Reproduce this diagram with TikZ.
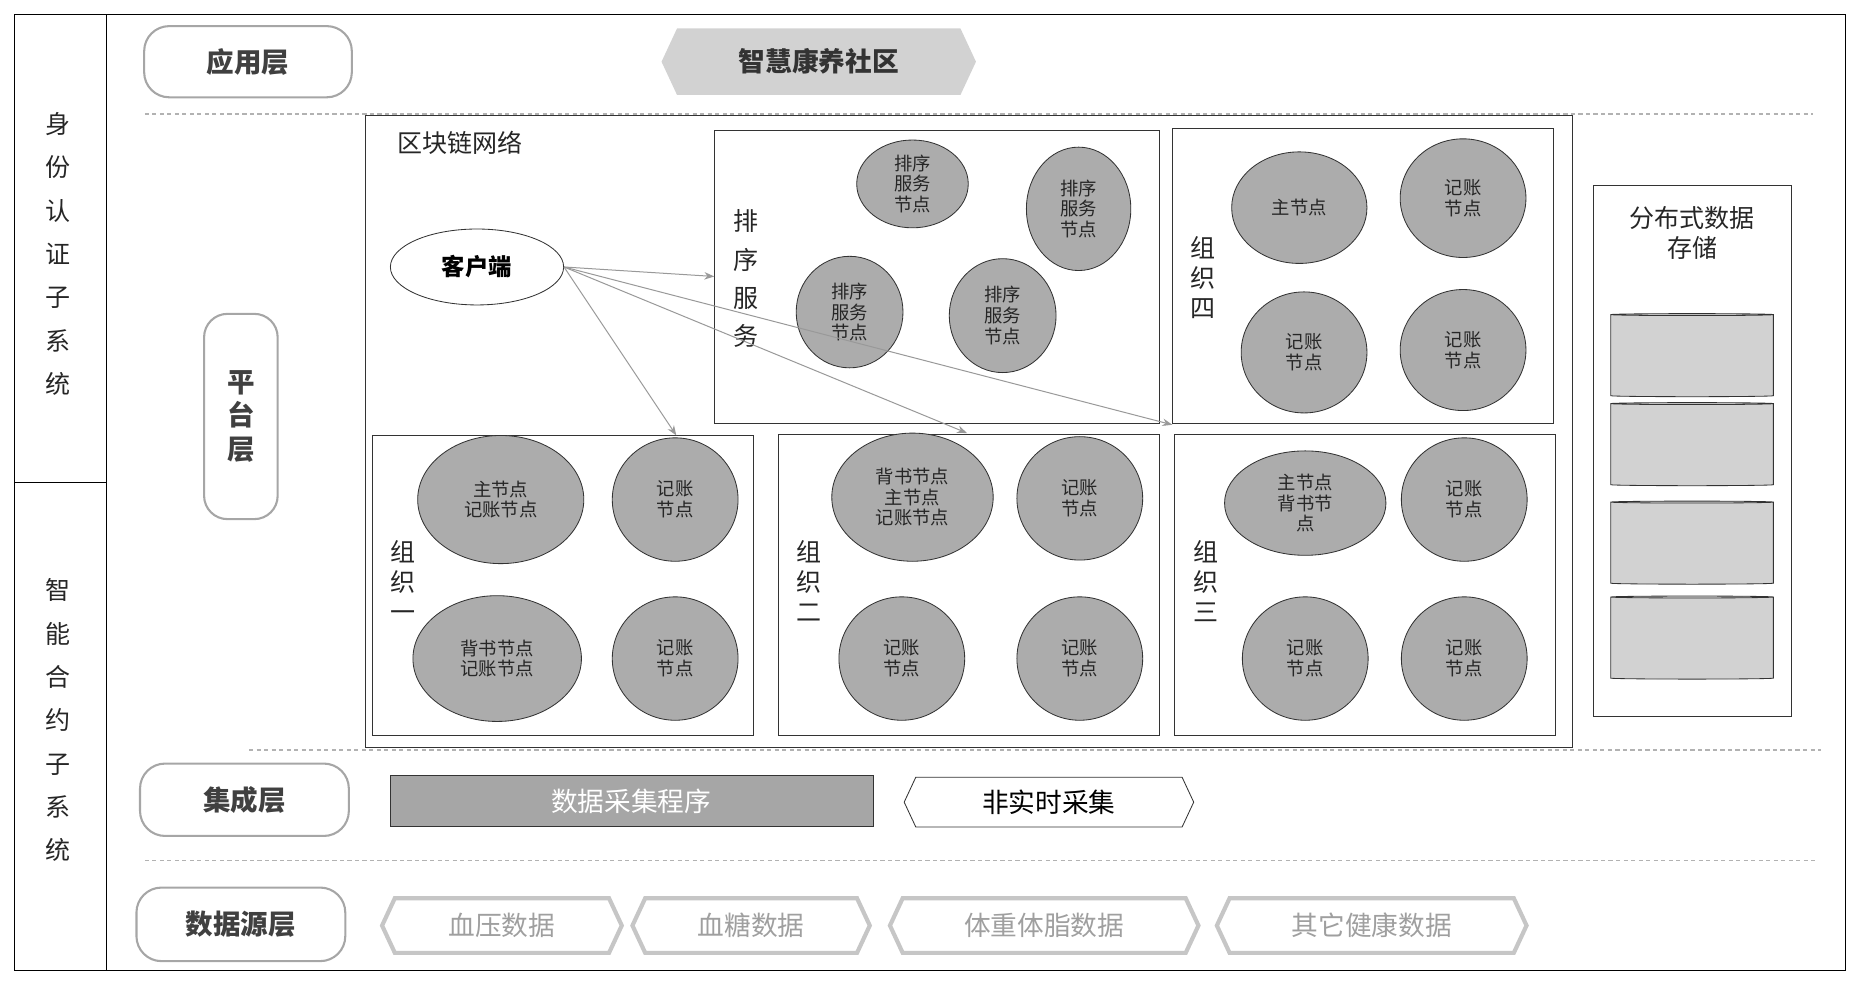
\documentclass[tikz,border=0pt]{standalone}
\usepackage{fontspec}
\setmainfont{Noto Sans CJK SC}
\usetikzlibrary{shapes.geometric,shapes.symbols,arrows.meta}
\tikzset{
  layer/.style={draw=gray!70, line width=2.5pt, rounded corners=30, fill=white, font=\fontsize{33}{36}\selectfont\bfseries, text=black!75},
  grpbox/.style={draw=black!80, line width=1pt, fill=white},
  peer/.style={ellipse, draw=black!80, line width=1pt, fill=gray!65, align=center, inner sep=0pt, font=\fontsize{22}{25}\selectfont, text=black!85},
  hexa/.style={signal, signal to=west and east, signal pointer angle=130, inner sep=0pt},
  srcbox/.style={hexa, draw=gray!45, line width=5pt, fill=white, text=gray!75, font=\fontsize{32}{36}\selectfont, minimum height=46*0.05cm},
  vtext/.style={align=center, font=\fontsize{30}{52}\selectfont, text=black!85},
  sep/.style={dashed, draw=gray!60, line width=1.5pt, dash pattern=on 5pt off 4pt},
  link/.style={-{Stealth[length=12pt]}, draw=gray!80, line width=1.2pt},
  disk/.style={cylinder, shape border rotate=90, aspect=0.35, draw=black!80, line width=1pt, fill=gray!35, minimum width=137*0.05cm, minimum height=70*0.05cm}
}
\begin{document}
\begin{tikzpicture}[x=0.05cm, y=-0.05cm]
\useasboundingbox (0,0) rectangle (1565,830);
\draw[line width=1.2pt] (12,12) rectangle (1555,818);
\draw[line width=1.2pt] (90,12) -- (90,818);
\draw[line width=1.2pt] (12,407) -- (90,407);
\node[vtext] (idsys) at (49,214) {身\\份\\认\\证\\子\\系\\统};
\node[vtext] (scsys) at (49,607) {智\\能\\合\\约\\子\\系\\统};

% application layer
\node[layer, minimum width=175*0.05cm, minimum height=60*0.05cm] (app) at (209,52) {应用层};
\node[hexa, fill=gray!35, minimum width=265*0.05cm, minimum height=56*0.05cm, font=\fontsize{32}{36}\selectfont\bfseries, text=black!80] (comm) at (690,52) {智慧康养社区};
\draw[sep] (122,96) -- (1528,96);
\draw[sep] (210,632) -- (1535,632);
\draw[sep] (122,725) -- (1530,725);

% platform layer
\node[layer, rounded corners=28, minimum width=62*0.05cm, minimum height=173*0.05cm, align=center, font=\fontsize{33}{40}\selectfont\bfseries] (plat) at (203,351) {平\\台\\层};
\draw[grpbox] (308,97) rectangle (1325,630);
\node[font=\fontsize{30}{34}\selectfont, text=black!85] (bcn) at (388,120) {区块链网络};

% ordering service
\draw[grpbox] (602,110) rectangle (977,357);
\node[vtext, font=\fontsize{30}{46}\selectfont] (ord) at (629,235) {排\\序\\服\\务};
\node[peer, minimum width=94*0.05cm, minimum height=74*0.05cm] (o1) at (769,155) {排序\\服务\\节点};
\node[peer, minimum width=88*0.05cm, minimum height=104*0.05cm] (o2) at (909,176) {排序\\服务\\节点};
\node[peer, minimum width=90*0.05cm, minimum height=94*0.05cm] (o3) at (716,263) {排序\\服务\\节点};
\node[peer, minimum width=90*0.05cm, minimum height=96*0.05cm] (o4) at (845,266) {排序\\服务\\节点};

% org four
\draw[grpbox] (988,108) rectangle (1309,357);
\node[vtext, font=\fontsize{30}{36}\selectfont] (g4) at (1014,234) {组\\织\\四};
\node[peer, minimum width=114*0.05cm, minimum height=94*0.05cm] (g4a) at (1095,175) {主节点};
\node[peer, minimum width=106*0.05cm, minimum height=100*0.05cm] (g4b) at (1233,167) {记账\\节点};
\node[peer, minimum width=106*0.05cm, minimum height=102*0.05cm] (g4c) at (1099,297) {记账\\节点};
\node[peer, minimum width=106*0.05cm, minimum height=102*0.05cm] (g4d) at (1233,295) {记账\\节点};

% org one
\draw[grpbox] (314,367) rectangle (635,620);
\node[vtext, font=\fontsize{30}{36}\selectfont] (g1) at (340,490) {组\\织\\一};
\node[peer, minimum width=140*0.05cm, minimum height=108*0.05cm] (g1a) at (422,421) {主节点\\记账节点};
\node[peer, minimum width=106*0.05cm, minimum height=104*0.05cm] (g1b) at (569,421) {记账\\节点};
\node[peer, minimum width=142*0.05cm, minimum height=106*0.05cm] (g1c) at (419,555) {背书节点\\记账节点};
\node[peer, minimum width=106*0.05cm, minimum height=104*0.05cm] (g1d) at (569,555) {记账\\节点};

% org two
\draw[grpbox] (656,366) rectangle (977,620);
\node[vtext, font=\fontsize{30}{36}\selectfont] (g2) at (682,490) {组\\织\\二};
\node[peer, minimum width=136*0.05cm, minimum height=108*0.05cm] (g2a) at (769,419) {背书节点\\主节点\\记账节点};
\node[peer, minimum width=106*0.05cm, minimum height=104*0.05cm] (g2b) at (910,420) {记账\\节点};
\node[peer, minimum width=106*0.05cm, minimum height=104*0.05cm] (g2c) at (760,555) {记账\\节点};
\node[peer, minimum width=106*0.05cm, minimum height=104*0.05cm] (g2d) at (910,555) {记账\\节点};

% org three
\draw[grpbox] (990,366) rectangle (1311,620);
\node[vtext, font=\fontsize{30}{36}\selectfont] (g3) at (1016,490) {组\\织\\三};
\node[peer, minimum width=136*0.05cm, minimum height=88*0.05cm] (g3a) at (1100,424) {主节点\\背书节\\点};
\node[peer, minimum width=106*0.05cm, minimum height=104*0.05cm] (g3b) at (1234,421) {记账\\节点};
\node[peer, minimum width=106*0.05cm, minimum height=104*0.05cm] (g3c) at (1100,555) {记账\\节点};
\node[peer, minimum width=106*0.05cm, minimum height=104*0.05cm] (g3d) at (1234,555) {记账\\节点};

% client and links
\node[ellipse, draw=black!80, line width=1pt, fill=white, minimum width=146*0.05cm, minimum height=64*0.05cm, font=\fontsize{28}{30}\selectfont\bfseries] (cli) at (402,225) {客户端};
\coordinate (t1) at (602,233);
\coordinate (t2) at (570,367);
\coordinate (t3) at (815,365);
\coordinate (t4) at (988,358);
\foreach \t in {t1,t2,t3,t4}
  \draw[link] (cli.east) -- (\t);

% distributed storage
\draw[grpbox] (1343,156) rectangle (1510,604);
\node[align=center, font=\fontsize{30}{36}\selectfont, text=black!85] (dss) at (1426,196) {分布式数据\\存储};
\foreach \yy/\nm in {300/d1,375/d2,458/d3,538/d4}
  \node[disk] (\nm) at (1426,\yy) {};

% integration layer
\node[layer, minimum width=176*0.05cm, minimum height=61*0.05cm] (integ) at (206,674) {集成层};
\node[draw=black!80, fill=gray!70, minimum width=407*0.05cm, minimum height=43*0.05cm, text=white, font=\fontsize{32}{36}\selectfont] (collect) at (532,675) {数据采集程序};
\node[hexa, draw=black!80, line width=1pt, fill=white, minimum width=244*0.05cm, minimum height=42*0.05cm, font=\fontsize{32}{36}\selectfont] (offline) at (884,676) {非实时采集};

% data source layer
\node[layer, minimum width=176*0.05cm, minimum height=62*0.05cm] (src) at (203,779) {数据源层};
\node[srcbox, minimum width=202*0.05cm] (s1) at (423,780) {血压数据};
\node[srcbox, minimum width=200*0.05cm] (s2) at (633,780) {血糖数据};
\node[srcbox, minimum width=260*0.05cm] (s3) at (880,780) {体重体脂数据};
\node[srcbox, minimum width=261*0.05cm] (s4) at (1156,780) {其它健康数据};
\end{tikzpicture}
\end{document}
